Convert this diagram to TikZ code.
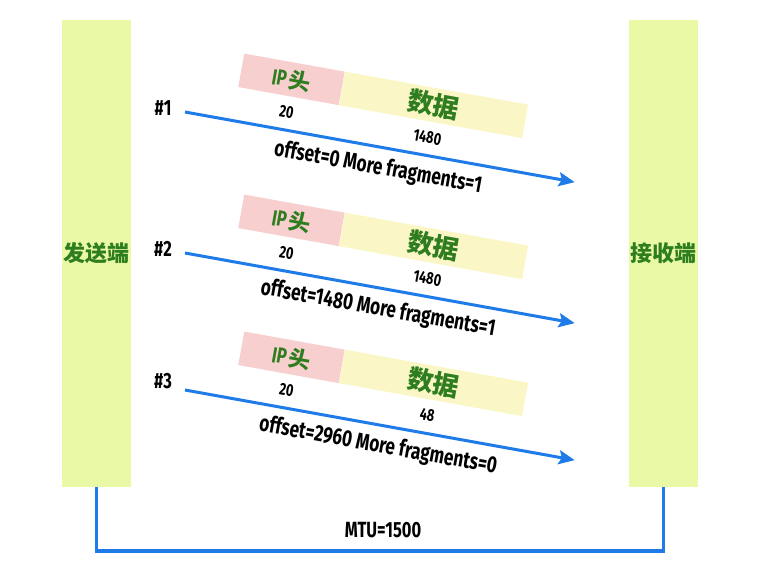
\documentclass[tikz,border=0pt]{standalone}
\usepackage{fontspec}
\setmainfont{Fira Sans}[FakeStretch=0.75]
\newfontfamily\cjk{Noto Sans CJK SC}
\usetikzlibrary{arrows.meta}
\definecolor{barfill}{HTML}{E9F9A6}
\definecolor{hdrfill}{HTML}{F8CFCF}
\definecolor{datafill}{HTML}{FBF6C6}
\definecolor{cjkgreen}{HTML}{2E7D1E}
\definecolor{linkblue}{HTML}{1E7BE8}
\begin{document}
\begin{tikzpicture}[x=1pt,y=1pt,
  bar/.style={fill=barfill, draw=none, minimum width=69pt, minimum height=467pt, inner sep=0pt,
    text=cjkgreen, font=\cjk\bfseries\fontsize{22}{25}\selectfont},
  hdrbox/.style={fill=hdrfill, draw=none, minimum width=102pt, minimum height=34pt, inner sep=0pt,
    text=cjkgreen, transform shape},
  databox/.style={fill=datafill, draw=none, minimum width=186pt, minimum height=34pt, inner sep=0pt,
    text=cjkgreen, font=\cjk\bfseries\fontsize{26}{29}\selectfont, transform shape},
  numlabel/.style={font=\bfseries\fontsize{17}{20}\selectfont, inner sep=0pt, transform shape},
  infolabel/.style={font=\bfseries\fontsize{23}{26}\selectfont, inner sep=0pt, transform shape},
  idlabel/.style={font=\bfseries\fontsize{22}{25}\selectfont, inner sep=0pt},
  flow/.style={draw=linkblue, line width=3pt, -{Stealth[length=16pt,width=14pt,inset=3pt]}},
  link/.style={draw=linkblue, line width=3.5pt},
]
\fill[white] (0,0) rectangle (758,-587);
\useasboundingbox (0,0) rectangle (758,-587);

\node[bar] (sender) at (96.5,-253.5) {发送端};
\node[bar] (receiver) at (663.5,-253.5) {接收端};

\foreach \i/\dy/\ly/\dat/\off/\mf in {1/0/108/1480/0/1, 2/141/249/1480/1480/1, 3/278/381/48/2960/0}{
  \node[idlabel] (id\i) at (163,-\ly) {\#\i};
  \begin{scope}[shift={(185,-112-\dy)}, rotate=-10.2]
    \coordinate (s\i) at (0,0);
    \coordinate (e\i) at (396,0);
    \draw[flow] (s\i) -- (e\i);
    \node[hdrbox] (h\i) at (99,51) {{\bfseries\fontsize{22}{25}\selectfont IP}\ {\cjk\bfseries\fontsize{22}{25}\selectfont 头}};
    \node[databox, anchor=west] (d\i) at (h\i.east) {数据};
    \node[numlabel] (hn\i) at (100,18) {20};
    \node[numlabel] (dn\i) at (243,18) {\dat};
    \node[infolabel] (info\i) at (200,-21) {offset=\off\ More fragments=\mf};
  \end{scope}
}

\coordinate (base) at (380,-551);
\draw[link] (sender.south) |- (base) -| (receiver.south);
\node[idlabel] (mtu) at (383,-530) {MTU=1500};
\end{tikzpicture}
\end{document}
